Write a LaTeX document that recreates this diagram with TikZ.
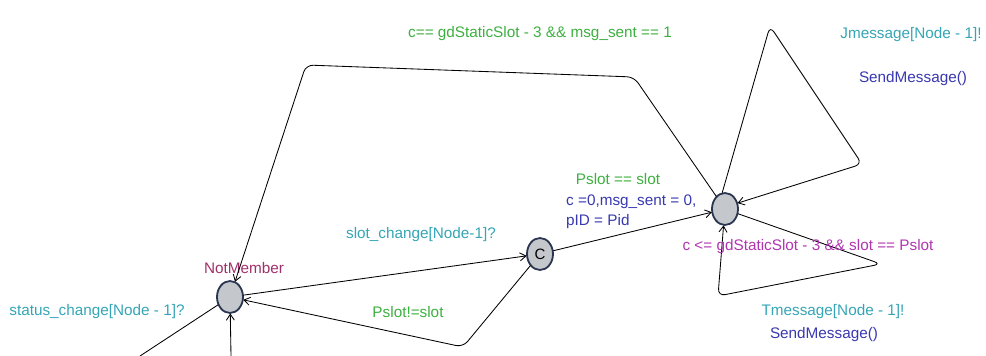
\documentclass[tikz,border=0pt]{standalone}
\usepackage{fontspec}
\setmainfont{Liberation Sans}
\usetikzlibrary{arrows.meta,shapes.geometric}
\definecolor{guardc}{HTML}{3DB040}
\definecolor{syncc}{HTML}{35A5B5}
\definecolor{assignc}{HTML}{3838B0}
\definecolor{invc}{HTML}{B035B0}
\definecolor{namec}{HTML}{A0306A}
\definecolor{locfill}{HTML}{C4C8CC}
\definecolor{locdraw}{HTML}{2A3550}
\definecolor{locring}{HTML}{9CC4E8}
\begin{document}
\begin{tikzpicture}[x=1pt,y=-1pt,
  loc/.style={ellipse,draw=locdraw,line width=0.9pt,fill=locfill,
    minimum width=26pt,minimum height=32pt,inner sep=0pt,font=\fontsize{15}{15}\selectfont,
    double=locring,double distance=0pt},
  edge/.style={line width=0.85pt,rounded corners=7pt,-{Straight Barb[length=6pt,width=8pt]}},
  plain/.style={line width=0.85pt},
  lbl/.style={font=\fontsize{15.3}{17}\selectfont,inner sep=0pt}]
\useasboundingbox (0,0) rectangle (986,356);

% locations
\node[loc] (nm) at (230,297) {};
\node[loc] (cm) at (540,254) {C};
\node[loc] (tx) at (725,209) {};
\node[lbl,text=namec] (nmname) at (244,268) {NotMember};

% free ends below the picture
\coordinate (inA) at (140,356);
\coordinate (inB) at (231,356);
\draw[plain] (inA) -- (nm);
\draw[edge] (inB) -- (nm);
\node[lbl,text=syncc] (sc) at (97,312) {status\_change[Node - 1]?};

% NotMember -> committed
\draw[edge] (nm) -- (cm);
\node[lbl,text=syncc] (slc) at (421,235) {slot\_change[Node-1]?};

% committed -> NotMember
\draw[edge] (cm) -- (463,347) -- (nm);
\node[lbl,text=guardc] (neq) at (408,312) {Pslot!=slot};

% committed -> transmit
\draw[edge] (cm) -- (tx);
\node[lbl,text=guardc] (eq) at (618,179) {Pslot == slot};
\node[lbl,text=assignc,anchor=west] (as1) at (566,202) {c =0,msg\_sent = 0,};
\node[lbl,text=assignc,anchor=west] (as2) at (566,222) {pID = Pid};

% transmit -> NotMember over the top
\draw[edge] (tx) -- (634,77) -- (306,65) -- (nm);
\node[lbl,text=guardc] (g1) at (540,34) {c== gdStaticSlot - 3 \&\& msg\_sent == 1};

% upper self loop
\draw[edge] (tx.100) -- (770,26) -- (862,164) -- (tx.25);
\node[lbl,text=syncc] (jm) at (911,35) {Jmessage[Node - 1]!};
\node[lbl,text=assignc] (sm1) at (913,79) {SendMessage()};

% lower self loop
\draw[edge] (tx.-20) -- (881,264) -- (718,296) -- (tx.-95);
\node[lbl,text=invc] (g2) at (808,247) {c <= gdStaticSlot - 3 \&\& slot == Pslot};
\node[lbl,text=syncc] (tm) at (833,312) {Tmessage[Node - 1]!};
\node[lbl,text=assignc] (sm2) at (824,335) {SendMessage()};
\end{tikzpicture}
\end{document}
